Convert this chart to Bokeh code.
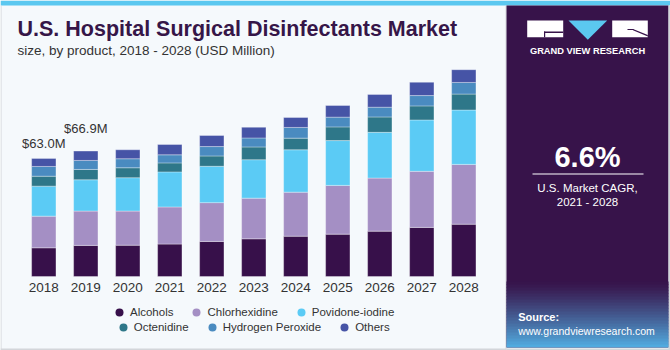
from bokeh.plotting import figure
from bokeh.models import (ColumnDataSource, Range1d, Label, Legend, LegendItem,
                          BoxAnnotation, PolyAnnotation)
from bokeh.embed import file_html
from bokeh.resources import INLINE
from bokeh.core.properties import value

# ---------------- data ----------------
years = [2018, 2019, 2020, 2021, 2022, 2023, 2024, 2025, 2026, 2027, 2028]
tick_labels = ["2018", "2019", "2020", "2021", "2022", "2023", "2024", "2025", "2026", "2027", "2028"]
alcohols = [15.3, 16.6, 16.7, 17.3, 18.7, 20.1, 21.5, 22.6, 24.2, 26.2, 27.9]
chlorhexidine = [16.9, 18.3, 18.2, 19.8, 20.7, 21.7, 23.5, 26.0, 28.3, 29.9, 31.9]
povidone_iodine = [16.0, 16.7, 17.8, 18.7, 19.4, 20.5, 22.6, 23.9, 24.4, 27.4, 29.0]
octenidine = [5.3, 5.5, 5.3, 4.8, 5.5, 6.8, 6.2, 7.3, 8.2, 7.5, 8.5]
hydrogen_peroxide = [5.2, 4.8, 4.8, 4.3, 5.0, 4.8, 5.7, 5.2, 5.2, 5.5, 6.2]
others = [4.3, 5.0, 4.8, 5.5, 5.9, 5.7, 5.3, 6.2, 6.8, 7.1, 6.8]

series_names = ["Alcohols", "Chlorhexidine", "Povidone-iodine", "Octenidine",
                "Hydrogen Peroxide", "Others"]
series_keys = ["alcohols", "chlorhexidine", "povidone_iodine", "octenidine",
               "hydrogen_peroxide", "others"]
series_values = [alcohols, chlorhexidine, povidone_iodine, octenidine,
                 hydrogen_peroxide, others]

label_years = [2018, 2019]
label_texts = ["$63.0M", "$66.9M"]

title_text = "U.S. Hospital Surgical Disinfectants Market"
subtitle_text = "size, by product, 2018 - 2028 (USD Million)"
cagr_text = "6.6%"
cagr_line1 = "U.S. Market CAGR,"
cagr_line2 = "2021 - 2028"
brand_text = "GRAND VIEW RESEARCH"
source_head = "Source:"
source_url = "www.grandviewresearch.com"

# ---------------- style ----------------
COLORS = ["#37104A", "#A48FC4", "#5BCBF5", "#2E7789", "#4A8BC0", "#4654A6"]
BG = "#F5F9FC"
STRIPE = "#5BC8F0"
PURPLE = "#37134A"
BORDER = "#D3D6DA"
FONT = "Liberation Sans"
TXT = "#333333"
W, H = 670, 350
PX_PER_UNIT = 1.875      # pixels per USD million
BASE_Y = 276             # canvas y of the zero line
PX_PER_YEAR = 42
FIRST_X = 43.3           # canvas x of the first bar centre
LABEL_OFFSETS = [-15, -23]

x0 = years[0] - FIRST_X / PX_PER_YEAR
y0 = -(H - BASE_Y) / PX_PER_UNIT
p = figure(width=W, height=H,
           x_range=Range1d(x0, x0 + W / PX_PER_YEAR),
           y_range=Range1d(y0, y0 + H / PX_PER_UNIT),
           output_backend="svg", toolbar_location=None,
           x_axis_location=None, y_axis_location=None, min_border=0,
           background_fill_color=BG, border_fill_color=BG, outline_line_color=None)
p.grid.visible = False


def sbox(l, r, top, bottom, c):
    """box in canvas pixels (top-left origin)"""
    p.add_layout(BoxAnnotation(left=l, right=r, top=H - top, bottom=H - bottom,
                               left_units="screen", right_units="screen",
                               top_units="screen", bottom_units="screen",
                               fill_color=c, fill_alpha=1, line_color=None, line_alpha=0))


def spoly(xs, ys, c):
    p.add_layout(PolyAnnotation(xs=xs, ys=[H - y for y in ys], xs_units="screen",
                                ys_units="screen", fill_color=c, fill_alpha=1,
                                line_color=None, line_alpha=0))


def slabel(x, y, text, size, color="white", bold=False, align="center"):
    p.add_layout(Label(x=x, y=H - y, x_units="screen", y_units="screen", text=text,
                       text_font=FONT, text_font_size=size,
                       text_font_style="bold" if bold else "normal", text_color=color,
                       text_align=align, text_baseline="alphabetic"))


# legend markers: circle renderers sitting inside (and hidden by) the last bar's segments
last = len(years) - 1
cum = 0.0
leg_rs = []
for vals, c in zip(series_values, COLORS):
    mid = cum + vals[last] / 2
    cum += vals[last]
    leg_rs.append(p.scatter(x=[years[last]], y=[mid], marker="circle", size=6,
                            fill_color=c, line_color=None))

# bars
data = dict(years=years)
for k, v in zip(series_keys, series_values):
    data[k] = v
src = ColumnDataSource(data)
p.vbar_stack(series_keys, x="years", width=0.58, fill_color=COLORS, source=src,
             line_color="#FFFFFF", line_width=0.6, line_alpha=0.55)

# value labels
totals = [round(sum(v), 1) for v in zip(*series_values)]
lab_src = ColumnDataSource(dict(x=label_years,
                                y=[totals[years.index(y)] for y in label_years],
                                text=label_texts, off=LABEL_OFFSETS))
p.text(x="x", y="y", text="text", y_offset="off", source=lab_src,
       text_align="center", text_baseline="alphabetic", text_font=value(FONT),
       text_font_size="13px", text_color=TXT)

# year tick labels on the zero line
tick_src = ColumnDataSource(dict(x=years, y=[0] * len(years), text=tick_labels))
p.text(x="x", y="y", text="text", y_offset=10.5, source=tick_src,
       text_align="center", text_baseline="alphabetic", text_font=value(FONT),
       text_font_size="13.5px", text_color=TXT)

# frame decorations of the chart panel
sbox(0, 670, 0, 5, STRIPE)
sbox(0, 1, 5, 350, BORDER)
sbox(0, 506, 348, 350, BORDER)
sbox(505, 506, 5, 350, BORDER)


def make_legend(idx, loc):
    return Legend(items=[LegendItem(label=series_names[i], renderers=[leg_rs[i]]) for i in idx],
                  location=loc, orientation="horizontal", glyph_width=20, glyph_height=20,
                  label_standoff=1, spacing=13, padding=0, margin=0,
                  background_fill_alpha=0, border_line_alpha=0, label_height=20,
                  label_text_font=FONT, label_text_font_size="11.5px",
                  label_text_color=TXT)


p.add_layout(make_legend([0, 1, 2], (109, H - 321.7)), "center")
p.add_layout(make_legend([3, 4, 5], (112.7, H - 337.3)), "center")

# title texts
slabel(17, 28, title_text, "21.5px", color="#361648", bold=True, align="left")
slabel(17, 50, subtitle_text, "13.5px", color=TXT, align="left")

# ---------------- side panel ----------------
sbox(506, 668, 5, 347, PURPLE)
sbox(668, 670, 5, 350, BORDER)
sbox(506, 670, 348, 350, BORDER)


def mix(c1, c2, t):
    a = [int(c1[i:i + 2], 16) for i in (1, 3, 5)]
    b = [int(c2[i:i + 2], 16) for i in (1, 3, 5)]
    return "#%02x%02x%02x" % tuple(int(round(u + (v - u) * t)) for u, v in zip(a, b))


n_strips = 22
g_top, g_bot = 281, 347
step = (g_bot - g_top) / n_strips
for i in range(n_strips):
    t = (i + 0.5) / n_strips
    sbox(506, 668, g_top + i * step, min(g_bot, g_top + (i + 1) * step + 0.4),
         mix(PURPLE, "#52AEE2", t ** 1.2))

# logo
sbox(526.7, 562.7, 20, 36.7, "white")
sbox(611.7, 647.3, 20, 36.7, "white")
spoly([568, 606.7, 587.3], [20, 20, 39.3], STRIPE)
sbox(543.5, 562.7, 30.9, 32.4, PURPLE)
sbox(543.5, 544.7, 30.9, 36.7, PURPLE)
sbox(627, 633, 28.4, 29.6, PURPLE)
spoly([632.5, 647.3, 647.3, 632.5], [28.4, 34.6, 35.9, 29.7], PURPLE)

slabel(587, 50.5, brand_text, "9.3px", bold=True)
slabel(587, 156, cagr_text, "29px", bold=True)
sbox(532, 643, 173, 174, "white")
slabel(587, 187, cagr_line1, "11.5px")
slabel(587, 201, cagr_line2, "11.5px")
slabel(517.7, 316.5, source_head, "11px", bold=True, align="left")
slabel(517.7, 330.5, source_url, "10.5px", align="left")

open("out.html", "w").write(file_html(p, INLINE))
